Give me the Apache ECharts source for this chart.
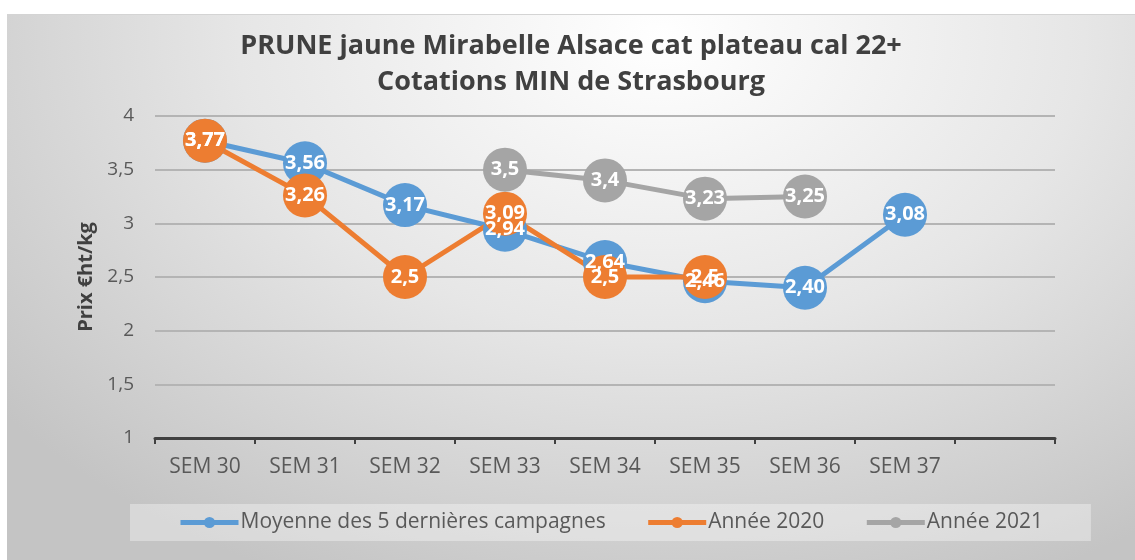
<!DOCTYPE html>
<html>
<head>
<meta charset="utf-8">
<script src="https://cdn.jsdelivr.net/npm/echarts@6/dist/echarts.min.js"></script>
<style>
  html, body { margin: 0; padding: 0; background: #ffffff; }
  #chart {
    position: absolute;
    left: 7px;
    top: 14px;
    width: 1128px;
    height: 546px;
    border-top: 1px solid #d4d4d4;
    box-sizing: border-box;
    background: radial-gradient(ellipse 75% 110% at 58% 4%, #ffffff 0%, #e6e6e6 50%, #c4c4c4 100%);
  }
</style>
</head>
<body>
<div id="chart"></div>
<script>
// semaines (la derniere case est vide)
var semaines = ['SEM 30', 'SEM 31', 'SEM 32', 'SEM 33', 'SEM 34', 'SEM 35', 'SEM 36', 'SEM 37', ''];
var moyenne5 = [3.77, 3.56, 3.17, 2.94, 2.64, 2.46, 2.40, 3.08, null];
var annee2020 = [3.77, 3.26, 2.5, 3.09, 2.5, 2.5, null, null, null];
var annee2021 = [null, null, null, 3.5, 3.4, 3.23, 3.25, null, null];
var yTicks = ['1', '1,5', '2', '2,5', '3', '3,5', '4'];

var font = '"Open Sans", "Noto Sans", sans-serif';

function virgule(v) {
  return String(v).replace('.', ',');
}

function serie(nom, data, couleur, deuxDecimales) {
  return {
    name: nom,
    type: 'line',
    data: data,
    symbol: 'circle',
    symbolSize: 44,
    connectNulls: false,
    lineStyle: { color: couleur, width: 5 },
    itemStyle: { color: couleur },
    label: {
      show: true,
      position: 'inside',
      color: '#ffffff',
      fontFamily: font,
      fontWeight: 'bold',
      fontSize: 20,
      formatter: function (p) {
        return deuxDecimales ? p.value.toFixed(2).replace('.', ',') : virgule(p.value);
      }
    },
    emphasis: { disabled: true }
  };
}

var myChart = echarts.init(document.getElementById('chart'));
myChart.setOption({
  animation: false,
  title: {
    text: 'PRUNE jaune Mirabelle Alsace cat plateau cal 22+\nCotations MIN de Strasbourg',
    left: 'center',
    top: 8,
    textStyle: {
      fontFamily: font,
      fontWeight: 'bold',
      fontSize: 27,
      lineHeight: 36,
      color: '#404040'
    }
  },
  legend: {
    left: 123,
    top: 489,
    padding: [8, 48],
    backgroundColor: 'rgba(255,255,255,0.35)',
    itemWidth: 58,
    itemHeight: 14,
    itemGap: 40,
    lineStyle: { width: 5 },
    textStyle: { fontFamily: font, fontSize: 21, color: '#595959', padding: [0, 0, 0, -3] },
    data: ['Moyenne des 5 dernières campagnes', 'Année 2020', 'Année 2021']
  },
  grid: { left: 148, top: 101, width: 900, height: 322, containLabel: false },
  xAxis: {
    type: 'category',
    data: semaines,
    boundaryGap: true,
    axisLine: { lineStyle: { color: '#404040', width: 3 } },
    axisTick: { show: true, length: 6, lineStyle: { color: '#404040', width: 2 } },
    axisLabel: { fontFamily: font, fontSize: 21, color: '#595959', margin: 19 }
  },
  yAxis: {
    type: 'value',
    min: 1,
    max: 4,
    interval: 0.5,
    name: 'Prix €ht/kg',
    nameLocation: 'middle',
    nameGap: 57,
    nameTextStyle: { fontFamily: font, fontWeight: 'bold', fontSize: 20, color: '#404040' },
    axisLine: { show: false },
    axisTick: { show: false },
    splitLine: { lineStyle: { color: '#b4b4b4', width: 2 } },
    axisLabel: {
      fontFamily: font,
      fontSize: 19,
      color: '#595959',
      margin: 21,
      formatter: function (v) {
        return yTicks[Math.round((v - 1) / 0.5)];
      }
    }
  },
  series: [
    serie('Moyenne des 5 dernières campagnes', moyenne5, '#5B9BD5', true),
    serie('Année 2020', annee2020, '#ED7D31', false),
    serie('Année 2021', annee2021, '#A5A5A5', false)
  ]
});
</script>
</body>
</html>
